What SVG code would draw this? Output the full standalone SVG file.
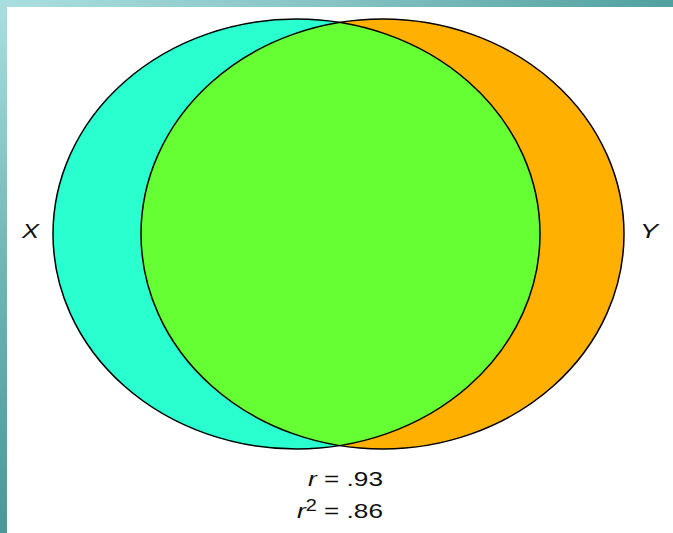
<svg xmlns="http://www.w3.org/2000/svg" width="673" height="533" viewBox="0 0 673 533">
<style>
.lbl{font-family:"Liberation Sans",Arial,sans-serif;font-size:21px;fill:#111;}
.it{font-style:italic;}
.outline{fill:none;stroke:#000;stroke-width:1.5;}
</style>
<defs>
<linearGradient id="gTop" x1="0" y1="0" x2="1" y2="0">
<stop offset="0" stop-color="#aadfdf"/>
<stop offset="0.5" stop-color="#86c2c2"/>
<stop offset="1" stop-color="#50a0a0"/>
</linearGradient>
<linearGradient id="gLeft" x1="0" y1="0" x2="0" y2="1">
<stop offset="0" stop-color="#aadfdf"/>
<stop offset="0.5" stop-color="#72b4b4"/>
<stop offset="1" stop-color="#4a9898"/>
</linearGradient>
<clipPath id="clipX">
<ellipse cx="296.5" cy="234" rx="243.5" ry="215"/>
</clipPath>
</defs>
<rect x="0" y="0" width="673" height="533" fill="#fff"/>
<g id="frame">
<rect x="0" y="0" width="673" height="7" fill="url(#gTop)"/>
<rect x="0" y="0" width="7" height="533" fill="url(#gLeft)"/>
</g>
<g id="set-x">
<ellipse cx="296.5" cy="234" rx="243.5" ry="215" fill="#2affcf"/>
</g>
<g id="set-y">
<ellipse cx="382.5" cy="234" rx="241.5" ry="215" fill="#ffb000"/>
</g>
<g id="overlap">
<ellipse cx="382.5" cy="234" rx="241.5" ry="215" fill="#66ff33" clip-path="url(#clipX)"/>
</g>
<g id="outlines">
<ellipse class="outline" cx="296.5" cy="234" rx="243.5" ry="215"/>
<ellipse class="outline" cx="382.5" cy="234" rx="241.5" ry="215"/>
</g>
<g id="labels">
<text class="lbl it" x="22" y="238" font-size="22" textLength="17" lengthAdjust="spacingAndGlyphs">X</text>
<text class="lbl it" x="640" y="238" font-size="22" textLength="18" lengthAdjust="spacingAndGlyphs">Y</text>
<text class="lbl" x="308" y="486" textLength="75" lengthAdjust="spacingAndGlyphs"><tspan class="it">r</tspan> = .93</text>
<text class="lbl" x="297" y="518" textLength="86" lengthAdjust="spacingAndGlyphs"><tspan class="it">r</tspan><tspan font-size="16" dy="-7">2</tspan><tspan dy="7"> = .86</tspan></text>
</g>
</svg>
